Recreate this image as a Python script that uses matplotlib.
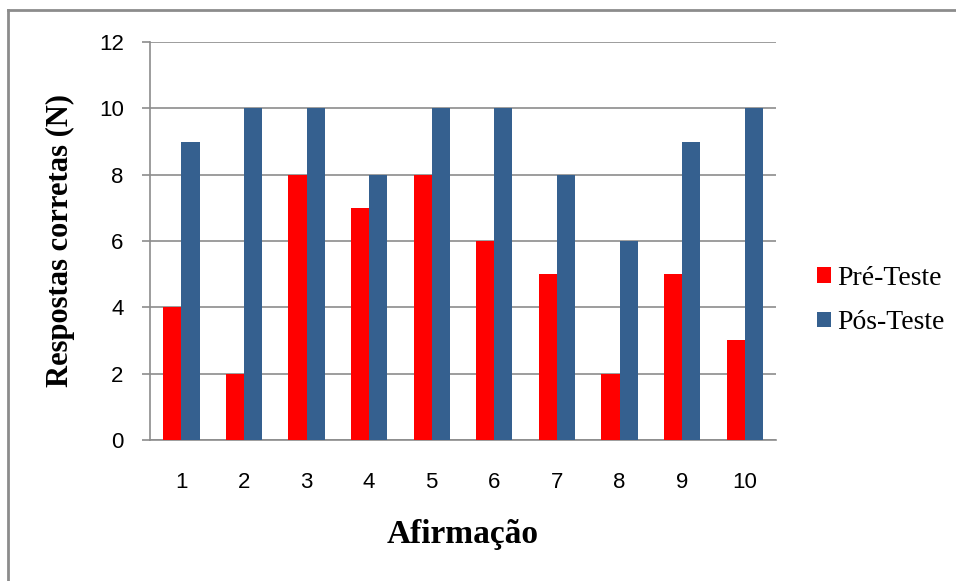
import numpy as np
import matplotlib.pyplot as plt
from matplotlib.lines import Line2D

# Respostas corretas por afirmação
afirmacoes = ["1", "2", "3", "4", "5", "6", "7", "8", "9", "10"]
pre_teste = [4, 2, 8, 7, 8, 6, 5, 2, 5, 3]
pos_teste = [9, 10, 10, 8, 10, 10, 8, 6, 9, 10]

cor_pre = "#FF0000"
cor_pos = "#35608F"
cinza = "#8C8C8C"

fig = plt.figure(figsize=(9.56, 5.81), dpi=100)
ax = fig.add_axes([0.157, 0.2427, 0.6547, 0.685])

x = np.arange(len(afirmacoes))
largura = 0.29
ax.bar(x - largura / 2, pre_teste, largura, color=cor_pre, label="Pré-Teste", zorder=3)
ax.bar(x + largura / 2, pos_teste, largura, color=cor_pos, label="Pós-Teste", zorder=3)

ax.set_xlim(-0.5, len(afirmacoes) - 0.5)
ax.set_ylim(0, 12)
ax.set_yticks(range(0, 13, 2))
ax.set_xticks(x)
ax.set_xticklabels(afirmacoes)
ax.grid(axis="y", color=cinza, linewidth=1.2, zorder=0)

for lado in ["top", "right"]:
    ax.spines[lado].set_visible(False)
ax.spines["left"].set_color(cinza)
ax.spines["bottom"].set_color(cinza)
ax.spines["left"].set_linewidth(1.2)
ax.spines["bottom"].set_linewidth(1.2)
ax.tick_params(axis="y", colors=cinza, labelcolor="black", length=6, width=1.2,
               labelsize=16, pad=13)
ax.tick_params(axis="x", length=0, labelsize=16, pad=23)
for rotulo in ax.get_xticklabels() + ax.get_yticklabels():
    rotulo.set_family("Liberation Sans")

ax.set_xlabel("Afirmação", fontsize=24, fontweight="bold", family="Liberation Serif",
              labelpad=19)
ax.set_ylabel("Respostas corretas (N)", fontsize=22, fontweight="bold",
              family="Liberation Serif", labelpad=17)

leg = ax.legend(loc="center left", bbox_to_anchor=(1.065, 0.35), frameon=False,
                borderaxespad=0, borderpad=0,
                prop={"family": "Liberation Serif", "size": 20},
                handlelength=0.5, handleheight=0.5, handletextpad=0.25,
                labelspacing=0.7)

# moldura cinza em volta do gráfico
fig.add_artist(Line2D([0.0084, 0.0084], [0.0, 0.983], color=cinza, linewidth=2,
                      transform=fig.transFigure))
fig.add_artist(Line2D([0.0084, 1.0], [0.983, 0.983], color=cinza, linewidth=2,
                      transform=fig.transFigure))

fig.savefig("out.png", dpi=100)
